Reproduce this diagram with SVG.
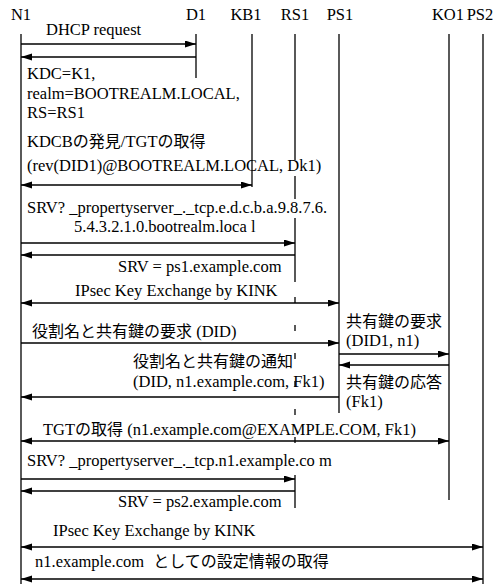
<svg xmlns="http://www.w3.org/2000/svg" width="498" height="584" viewBox="0 0 498 584">
<style>
text{font-size:16.5px;fill:#000}
.jp{font-size:16px}
.hd{text-anchor:middle}
.life{stroke:#000;stroke-width:1.3;fill:none}
.dash{stroke-dasharray:6 22}
.msg{stroke:#000;stroke-width:1.3;fill:none;marker-end:url(#ah)}
.both{marker-start:url(#ah)}
</style>
<defs>
<marker id="ah" markerUnits="userSpaceOnUse" markerWidth="12" markerHeight="8" refX="11" refY="3.5" orient="auto-start-reverse">
<path d="M0,0 L11,3.5 L0,7 z" fill="#000"/>
</marker>
</defs>
<rect width="498" height="584" fill="#fff"/>
<g font-family="Liberation Serif, Tinos, Times New Roman, serif">
<g id="N1"><text class="hd" x="21" y="20">N1</text><line class="life" x1="21" y1="34" x2="21" y2="584"/></g>
<g id="D1"><text class="hd" x="196" y="20">D1</text><line class="life" x1="196" y1="34" x2="196" y2="78"/></g>
<g id="KB1"><text class="hd" x="246" y="20">KB1</text><line class="life" x1="252" y1="34" x2="252" y2="187"/></g>
<g id="RS1"><text class="hd" x="295" y="20">RS1</text>
<path class="life" d="M295,34 V160 M295,176 V199 M295,218 V282 M295,475 V508"/>
<line class="life dash" x1="295" y1="297" x2="295" y2="460"/></g>
<g id="PS1"><text class="hd" x="340" y="20">PS1</text><line class="life" x1="339" y1="34" x2="339" y2="413"/></g>
<g id="KO1"><text class="hd" x="448" y="20">KO1</text><line class="life" x1="449" y1="34" x2="449" y2="500"/></g>
<g id="PS2"><text class="hd" x="480" y="20">PS2</text><line class="life" x1="483" y1="34" x2="483" y2="584"/></g>
<g id="connectors">
<line class="msg" x1="21" y1="44" x2="196" y2="44"/>
<line class="msg" x1="196" y1="57" x2="21" y2="57"/>
<line class="msg both" x1="21" y1="185" x2="252" y2="185"/>
<line class="msg" x1="21" y1="243" x2="295" y2="243"/>
<line class="msg" x1="295" y1="255" x2="21" y2="255"/>
<line class="msg both" x1="21" y1="303" x2="339" y2="303"/>
<line class="msg" x1="21" y1="343" x2="339" y2="343"/>
<line class="msg" x1="339" y1="354" x2="449" y2="354"/>
<line class="msg" x1="449" y1="365" x2="339" y2="365"/>
<line class="msg" x1="339" y1="397" x2="21" y2="397"/>
<line class="msg both" x1="21" y1="441" x2="449" y2="441"/>
<line class="msg" x1="21" y1="479" x2="295" y2="479"/>
<line class="msg" x1="295" y1="491" x2="21" y2="491"/>
<line class="msg both" x1="21" y1="547" x2="483" y2="547"/>
<line class="msg both" x1="21" y1="579" x2="483" y2="579"/>
</g>
<g id="labels">
<text x="46" y="35">DHCP request</text>
<text x="27" y="79">KDC=K1,</text>
<text x="27" y="99">realm=BOOTREALM.LOCAL,</text>
<text x="27" y="118">RS=RS1</text>
<text x="27" y="147">KDCB<tspan class="jp" font-family="Noto Sans CJK JP, sans-serif">の発見</tspan>/TGT<tspan class="jp" font-family="Noto Sans CJK JP, sans-serif">の取得</tspan></text>
<text x="27" y="171">(rev(DID1)@BOOTREALM.LOCAL, Dk1)</text>
<text x="27" y="213">SRV? _propertyserver_._tcp.e.d.c.b.a.9.8.7.6.</text>
<text x="74" y="232">5.4.3.2.1.0.bootrealm.loca l</text>
<text x="118" y="272">SRV = ps1.example.com</text>
<text x="75" y="296">IPsec Key Exchange by KINK</text>
<text x="32" y="337"><tspan class="jp" font-family="Noto Sans CJK JP, sans-serif">役割名と共有鍵の要求</tspan> (DID)</text>
<text x="346" y="327" class="jp" font-family="Noto Sans CJK JP, sans-serif">共有鍵の要求</text>
<text x="346" y="346">(DID1, n1)</text>
<text x="133" y="367" class="jp" font-family="Noto Sans CJK JP, sans-serif">役割名と共有鍵の通知</text>
<text x="133" y="387">(DID, n1.example.com, Fk1)</text>
<text x="346" y="388" class="jp" font-family="Noto Sans CJK JP, sans-serif">共有鍵の応答</text>
<text x="346" y="407">(Fk1)</text>
<text x="43" y="435">TGT<tspan class="jp" font-family="Noto Sans CJK JP, sans-serif">の取得</tspan> (n1.example.com@EXAMPLE.COM, Fk1)</text>
<text x="27" y="466">SRV? _propertyserver_._tcp.n1.example.co m</text>
<text x="118" y="507">SRV = ps2.example.com</text>
<text x="53" y="536">IPsec Key Exchange by KINK</text>
<text x="35" y="567">n1.example.com <tspan class="jp" dx="5" font-family="Noto Sans CJK JP, sans-serif">としての設定情報の取得</tspan></text>
</g>
</g>
</svg>
